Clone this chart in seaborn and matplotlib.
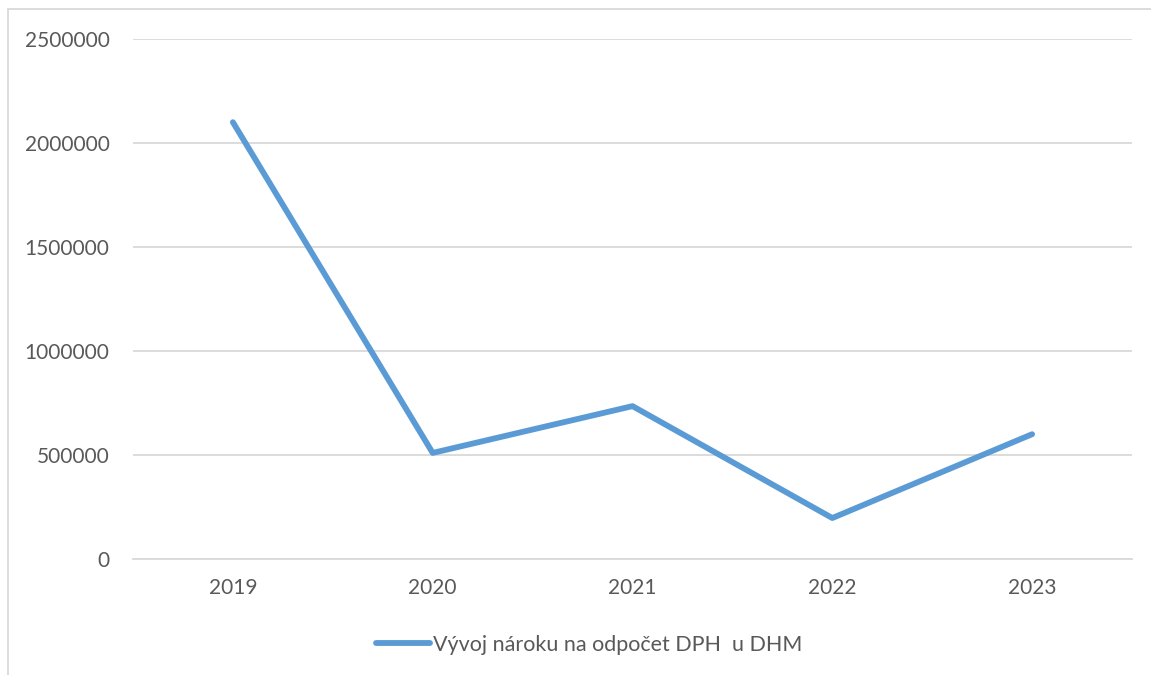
import matplotlib
matplotlib.use("Agg")
import matplotlib.pyplot as plt
import seaborn as sns
import pandas as pd
from matplotlib.patches import Rectangle

# data
years = ["2019", "2020", "2021", "2022", "2023"]
values = [2100000, 510000, 735000, 197000, 600000]
y_ticks = [0, 500000, 1000000, 1500000, 2000000, 2500000]
series_name = "Vývoj nároku na odpočet DPH  u DHM"

df = pd.DataFrame({"year": years, "value": values, "series": series_name})

sns.set_theme(style="white")
plt.rcParams['font.family'] = ['Lato', 'DejaVu Sans']
text_color = "#595959"
grid_color = "#D9D9D9"
line_color = "#5B9BD5"
fs = 15

W, H = 1151, 675
fig = plt.figure(figsize=(W / 100, H / 100), dpi=100)
ax = fig.add_axes([133 / W, 1 - 559 / H, (1132 - 133) / W, (559 - 39) / H])

sns.lineplot(data=df, x="year", y="value", hue="series", palette=[line_color],
             linewidth=4.2, ax=ax, sort=False, solid_capstyle="round")

ax.set_xlim(-0.5, len(years) - 0.5)
ax.set_ylim(0, 2500000)
ax.set_yticks(y_ticks)
ax.set_yticklabels([str(v) for v in y_ticks])
ax.yaxis.grid(True, color=grid_color, linewidth=1.3)
ax.set_axisbelow(True)
for s in ax.spines.values():
    s.set_visible(False)
ax.spines["bottom"].set_visible(True)
ax.spines["bottom"].set_color(grid_color)
ax.spines["bottom"].set_linewidth(1.3)
ax.tick_params(axis="both", length=0, labelsize=fs, colors=text_color)
ax.tick_params(axis="y", pad=17)
ax.tick_params(axis="x", pad=14)
ax.set_xlabel("")
ax.set_ylabel("")

leg = ax.legend(loc="center left",
                bbox_to_anchor=((376 - 133) / (1132 - 133), (559 - 645) / (559 - 39)),
                frameon=False, fontsize=15.5, handlelength=2.5, handletextpad=0.15,
                borderpad=0, borderaxespad=0)
for t in leg.get_texts():
    t.set_color(text_color)
for h in leg.get_lines():
    h.set_linewidth(4.2)
    h.set_solid_capstyle("round")

# chart area border
fig.patches.append(Rectangle((8 / W, -0.1), 1.2, 1 - 9 / H + 0.1, transform=fig.transFigure,
                             fill=False, edgecolor=grid_color, linewidth=1.3))

fig.savefig("out.png", dpi=100, facecolor="white")
